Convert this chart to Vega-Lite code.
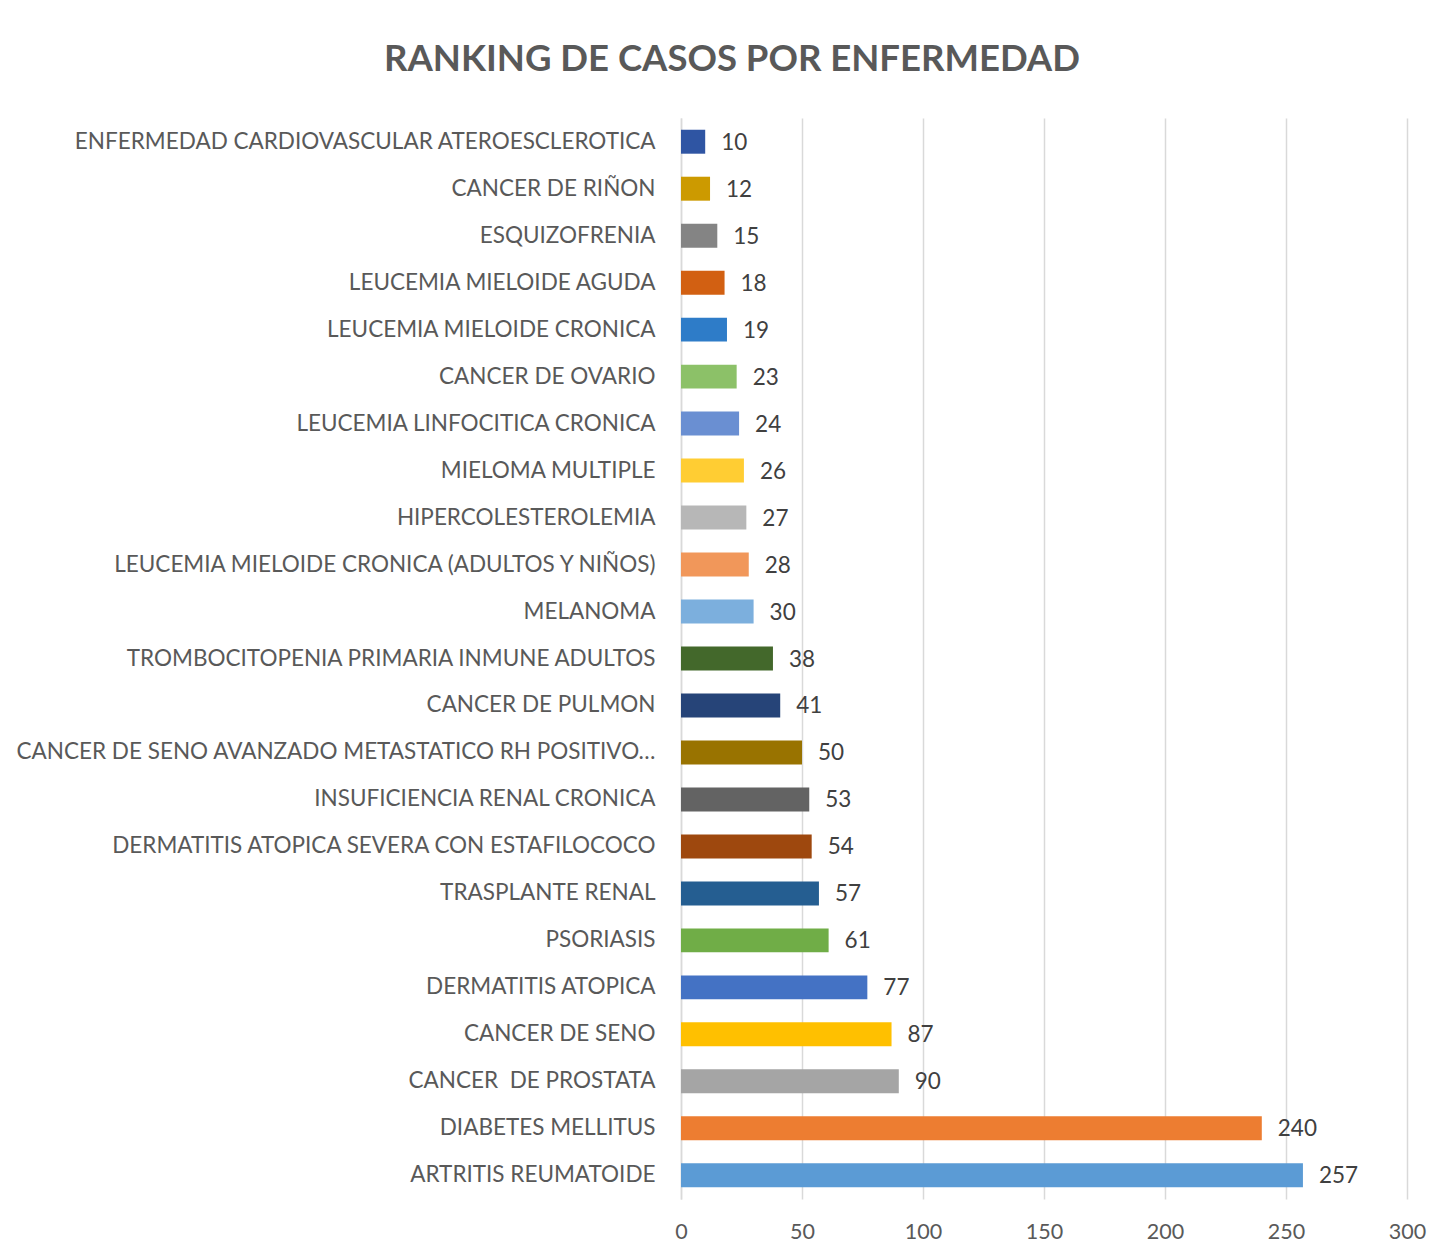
{
  "$schema": "https://vega.github.io/schema/vega-lite/v6.json",
  "autosize": "none",
  "width": 726,
  "height": 1081,
  "padding": {"left": 681, "top": 118, "right": 39, "bottom": 57},
  "background": "white",
  "title": {
    "text": "RANKING DE CASOS POR ENFERMEDAD",
    "font": "Lato",
    "fontSize": 36.5,
    "fontWeight": "bold",
    "color": "#595959",
    "anchor": "middle",
    "dx": -312,
    "offset": 40
  },
  "data": {
    "values": [
      {"enfermedad": "ENFERMEDAD CARDIOVASCULAR ATEROESCLEROTICA", "casos": 10},
      {"enfermedad": "CANCER DE RIÑON", "casos": 12},
      {"enfermedad": "ESQUIZOFRENIA", "casos": 15},
      {"enfermedad": "LEUCEMIA MIELOIDE AGUDA", "casos": 18},
      {"enfermedad": "LEUCEMIA MIELOIDE CRONICA", "casos": 19},
      {"enfermedad": "CANCER DE OVARIO", "casos": 23},
      {"enfermedad": "LEUCEMIA LINFOCITICA CRONICA\u00a0", "casos": 24},
      {"enfermedad": "MIELOMA MULTIPLE", "casos": 26},
      {"enfermedad": "HIPERCOLESTEROLEMIA", "casos": 27},
      {"enfermedad": "LEUCEMIA MIELOIDE CRONICA (ADULTOS Y NIÑOS)", "casos": 28},
      {"enfermedad": "MELANOMA", "casos": 30},
      {"enfermedad": "TROMBOCITOPENIA PRIMARIA INMUNE ADULTOS", "casos": 38},
      {"enfermedad": "CANCER DE PULMON", "casos": 41},
      {"enfermedad": "CANCER DE SENO AVANZADO METASTATICO RH POSITIVO…", "casos": 50},
      {"enfermedad": "INSUFICIENCIA RENAL CRONICA", "casos": 53},
      {"enfermedad": "DERMATITIS ATOPICA SEVERA CON ESTAFILOCOCO", "casos": 54},
      {"enfermedad": "TRASPLANTE RENAL", "casos": 57},
      {"enfermedad": "PSORIASIS", "casos": 61},
      {"enfermedad": "DERMATITIS ATOPICA", "casos": 77},
      {"enfermedad": "CANCER DE SENO", "casos": 87},
      {"enfermedad": "CANCER \u00a0DE PROSTATA\u00a0", "casos": 90},
      {"enfermedad": "DIABETES MELLITUS", "casos": 240},
      {"enfermedad": "ARTRITIS REUMATOIDE", "casos": 257}
    ]
  },
  "encoding": {
    "y": {
      "field": "enfermedad",
      "type": "nominal",
      "sort": null,
      "scale": {"paddingInner": 0.49, "paddingOuter": 0.25},
      "axis": {
        "title": null,
        "labelFont": "Lato",
        "labelFontSize": 22.5,
        "labelColor": "#595959",
        "labelPadding": 26,
        "labelLimit": 700,
        "ticks": false,
        "domainColor": "#D9D9D9",
        "domainWidth": 1.5
      }
    },
    "x": {
      "field": "casos",
      "type": "quantitative",
      "scale": {"domain": [0, 300], "nice": false},
      "axis": {
        "title": null,
        "values": [0, 50, 100, 150, 200, 250, 300],
        "labelFont": "Lato",
        "labelFontSize": 21.5,
        "labelColor": "#595959",
        "labelPadding": 22,
        "labelFlush": false,
        "ticks": false,
        "domain": false,
        "gridColor": "#D9D9D9",
        "gridWidth": 1.5
      }
    }
  },
  "layer": [
    {
      "mark": {"type": "bar"},
      "encoding": {
        "color": {
          "field": "enfermedad",
          "type": "nominal",
          "legend": null,
          "scale": {
            "domain": [
              "ENFERMEDAD CARDIOVASCULAR ATEROESCLEROTICA", "CANCER DE RIÑON", "ESQUIZOFRENIA", "LEUCEMIA MIELOIDE AGUDA", "LEUCEMIA MIELOIDE CRONICA", "CANCER DE OVARIO", "LEUCEMIA LINFOCITICA CRONICA\u00a0", "MIELOMA MULTIPLE", "HIPERCOLESTEROLEMIA", "LEUCEMIA MIELOIDE CRONICA (ADULTOS Y NIÑOS)", "MELANOMA", "TROMBOCITOPENIA PRIMARIA INMUNE ADULTOS", "CANCER DE PULMON", "CANCER DE SENO AVANZADO METASTATICO RH POSITIVO…", "INSUFICIENCIA RENAL CRONICA", "DERMATITIS ATOPICA SEVERA CON ESTAFILOCOCO", "TRASPLANTE RENAL", "PSORIASIS", "DERMATITIS ATOPICA", "CANCER DE SENO", "CANCER \u00a0DE PROSTATA\u00a0", "DIABETES MELLITUS", "ARTRITIS REUMATOIDE"
            ],
            "range": [
              "#2F55A3", "#CC9A00", "#848484", "#D26012", "#2E7CC8", "#8CC168", "#6A8FD2", "#FFCD33", "#B7B7B7", "#F1975A", "#7CAFDD", "#43682B", "#264478", "#997300", "#636363", "#9E480E", "#255E91", "#70AD47", "#4472C4", "#FFC000", "#A5A5A5", "#ED7D31", "#5B9BD5"
            ]
          }
        }
      }
    },
    {
      "mark": {"type": "text", "align": "left", "baseline": "middle", "dx": 16, "dy": 1, "font": "Lato", "fontSize": 22.5, "color": "#404040"},
      "encoding": {
        "text": {"field": "casos", "type": "quantitative"}
      }
    }
  ],
  "config": {
    "view": {"stroke": null}
  }
}
